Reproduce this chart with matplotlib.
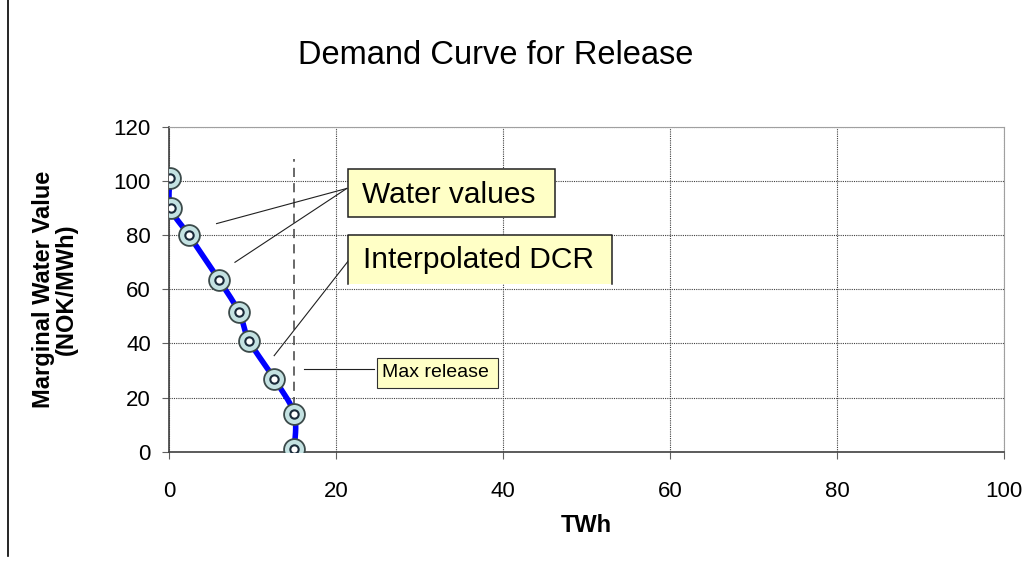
import numpy as np
import matplotlib.pyplot as plt
from matplotlib.lines import Line2D
from matplotlib.patches import Rectangle

plt.rcParams['font.family'] = ['Liberation Sans', 'DejaVu Sans']

# water value points on the demand curve (TWh, NOK/MWh)
release = [0.1, 0.2, 2.4, 6.0, 8.4, 9.6, 12.6, 15.0, 15.0]
value = [101, 90, 80, 63.5, 51.5, 41, 27, 14, 1]
max_release = 15.0

x_ticks = [0, 20, 40, 60, 80, 100]
y_ticks = [0, 20, 40, 60, 80, 100, 120]


def smooth(xs, ys, n=20):
    # Catmull-Rom spline through the points, like a smoothed line in a spreadsheet
    pts = np.column_stack([xs, ys]).astype(float)
    pts = np.vstack([pts[0], pts, pts[-1]])
    out = []
    for i in range(1, len(pts) - 2):
        p0, p1, p2, p3 = pts[i - 1], pts[i], pts[i + 1], pts[i + 2]
        t = np.linspace(0, 1, n)[:, None]
        seg = 0.5 * ((2 * p1) + (-p0 + p2) * t + (2 * p0 - 5 * p1 + 4 * p2 - p3) * t**2
                     + (-p0 + 3 * p1 - 3 * p2 + p3) * t**3)
        out.append(seg)
    out = np.vstack(out)
    return out[:, 0], out[:, 1]


fig = plt.figure(figsize=(10.29, 5.64), dpi=100)
ax = fig.add_axes([0.1642, 0.1991, 0.8115, 0.5757])

sx, sy = smooth(release, value)
ax.plot(sx, sy, color='#0000ff', lw=4, zorder=3, solid_capstyle='round')
ax.plot(release, value, 'o', ms=15, mfc='#c4e2e2', mec='#3c4a4a', mew=1.3, zorder=4, ls='none')
ax.plot(release, value, 'o', ms=6, mfc='white', mec='#1a2a3a', mew=1.5, zorder=5, ls='none')

ax.plot([max_release, max_release], [0, 108], ls=(0, (6, 4)), color='#404040', lw=1.1, zorder=2)

ax.set_xlim(0, 100)
ax.set_ylim(0, 120)
ax.set_xticks(x_ticks)
ax.set_yticks(y_ticks)
ax.tick_params(labelsize=16, direction='out', length=5, color='#606060')
ax.tick_params(axis='x', pad=16)
ax.tick_params(axis='y', pad=8)
ax.grid(True, ls=(0, (1, 1)), color='#404040', lw=0.8)
ax.set_axisbelow(True)
for s in ['top', 'right']:
    ax.spines[s].set_color('#a0a0a0')
for s in ['left', 'bottom']:
    ax.spines[s].set_color('#404040')
    ax.spines[s].set_linewidth(1.2)

ax.set_xlabel('TWh', fontsize=17, fontweight='bold', labelpad=9)
ax.set_ylabel('Marginal Water Value\n(NOK/MWh)', fontsize=17, fontweight='bold',
              labelpad=26, linespacing=0.95)
fig.text(0.482, 0.902, 'Demand Curve for Release', fontsize=23.5, ha='center', va='center')

# callout boxes
fill = '#ffffc6'
ax.add_patch(Rectangle((21.44, 86.6), 24.76, 17.8, fc=fill, ec='#202020', lw=1.1, zorder=6))
ax.text(23.1, 95.0, 'Water values', fontsize=21.5, va='center', ha='left', zorder=7)

ax.add_patch(Rectangle((21.44, 61.9), 31.6, 18.3, fc=fill, ec='none', zorder=6))
ax.plot([21.44, 21.44, 53.04, 53.04], [61.9, 80.2, 80.2, 61.9], color='#202020', lw=1.1, zorder=6)
ax.text(23.2, 71.0, 'Interpolated DCR', fontsize=21.5, va='center', ha='left', zorder=7)

ax.add_patch(Rectangle((24.9, 23.4), 14.5, 11.3, fc=fill, ec='#303030', lw=0.8, zorder=6))
ax.text(25.5, 29.2, 'Max release', fontsize=14, va='center', ha='left', zorder=7)

lk = dict(color='#202020', lw=0.8, zorder=5)
ax.plot([5.7, 21.3], [84.3, 97.3], **lk)
ax.plot([7.9, 21.3], [70.0, 97.3], **lk)
ax.plot([12.6, 21.6], [35.5, 71.0], **lk)
ax.plot([16.2, 24.5], [30.5, 30.5], **lk)

fig.add_artist(Line2D([0.0075, 0.0075], [0.015, 1.0], color='black', lw=1.2))

fig.savefig('out.png', dpi=100)
